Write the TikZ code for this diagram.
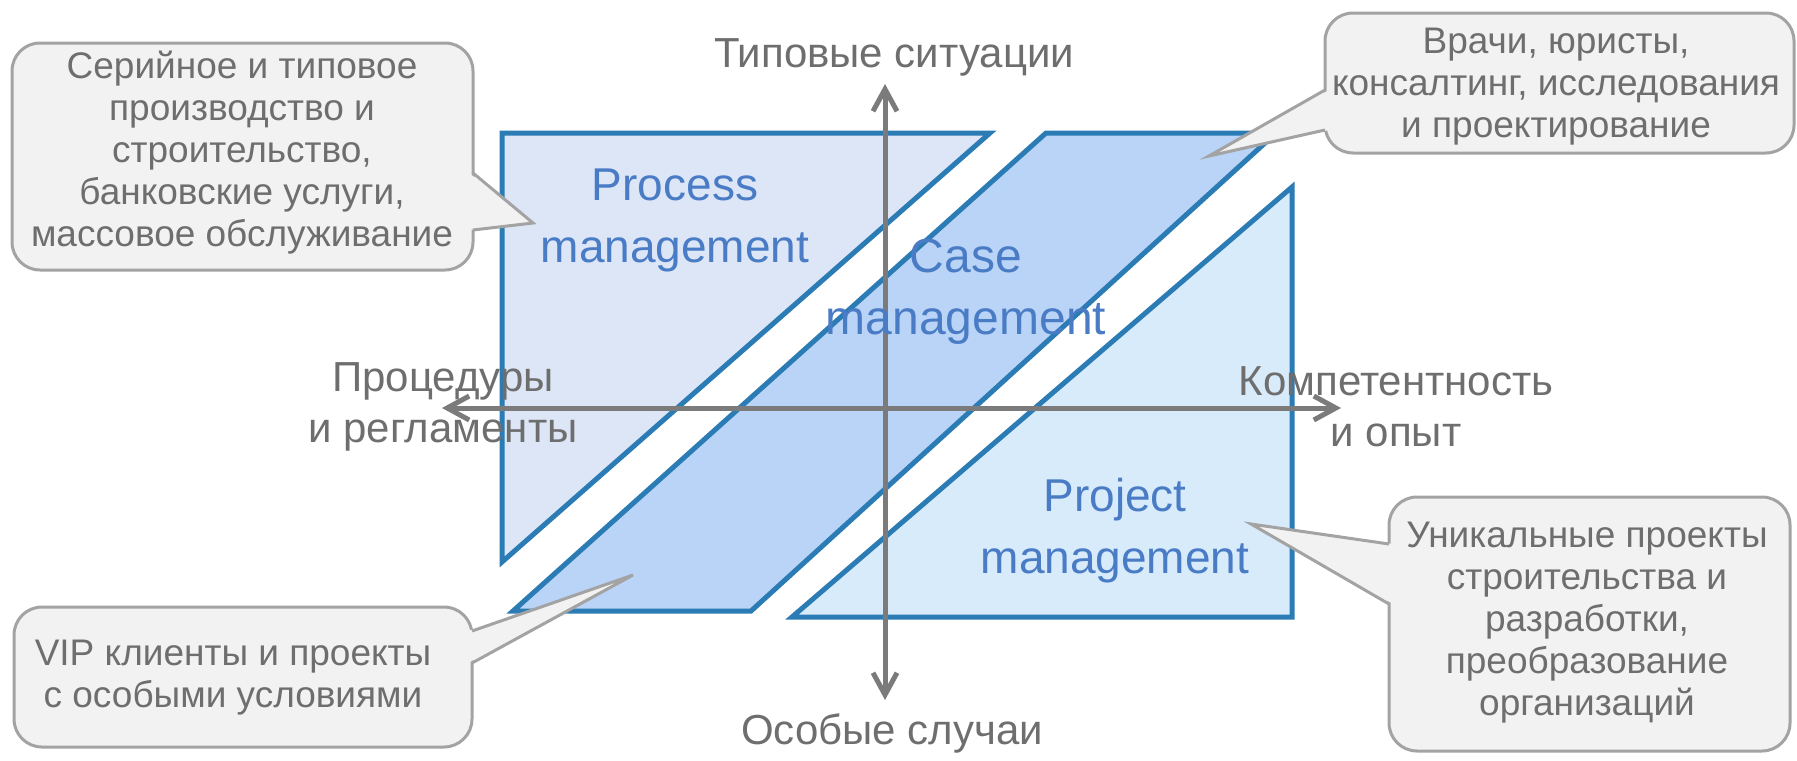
\documentclass[tikz,border=0pt]{standalone}
\usepackage{fontspec}
\setmainfont{Liberation Sans}
\usetikzlibrary{arrows.meta}
\definecolor{procfill}{HTML}{DCE6F6}
\definecolor{casefill}{HTML}{B9D4F6}
\definecolor{projfill}{HTML}{D8EBFB}
\definecolor{shapeline}{HTML}{2B7BB5}
\definecolor{labelblue}{HTML}{4A7CC6}
\definecolor{axisgray}{HTML}{7B7B7B}
\definecolor{textgray}{HTML}{6E6E6E}
\definecolor{callfill}{HTML}{F2F2F2}
\definecolor{callline}{HTML}{A3A3A3}
\begin{document}
\begin{tikzpicture}[x=0.5pt,y=-0.5pt,
  region/.style={draw=shapeline, line width=2.5pt, line join=miter},
  regionlabel/.style={text=labelblue, align=center, inner sep=0pt, font=\fontsize{23}{31}\selectfont},
  axisline/.style={draw=axisgray, line width=2.5pt, {Straight Barb[length=11pt,width=12pt]}-{Straight Barb[length=11pt,width=12pt]}},
  axislabel/.style={text=textgray, align=center, inner sep=0pt, font=\fontsize{21}{25.5}\selectfont},
  callbox/.style={fill=callfill, draw=callline, line width=1.5pt, rounded corners=14pt},
  callpointer/.style={draw=callline, line width=1.5pt, line join=miter},
  calltext/.style={text=textgray, align=center, inner sep=0pt, font=\fontsize{18.5}{21}\selectfont}]
\useasboundingbox (0,0) rectangle (1797,760);

% regions
\draw[region, fill=procfill] (502,133) -- (990,133) -- (502,562) -- cycle;
\draw[region, fill=casefill] (1046,133) -- (1276,133) -- (751,611) -- (513,611) -- cycle;
\draw[region, fill=projfill] (1292,187) -- (1292,617) -- (792,617) -- cycle;

% axes
\coordinate (ytop) at (885,84);
\coordinate (ybot) at (885,700);
\coordinate (xl) at (442,408);
\coordinate (xr) at (1341,408);
\draw[axisline] (ybot) -- (ytop);
\draw[axisline] (xl) -- (xr);

% region labels
\node[regionlabel] (proc) at (675,220) {Process\\management};
\node[regionlabel, font=\fontsize{24}{31}\selectfont] (case) at (966,292) {Case\\management};
\node[regionlabel] (proj) at (1115,531) {Project\\management};

% axis labels
\node[axislabel] (top) at (894,57) {Типовые ситуации};
\node[axislabel] (bot) at (892,733) {Особые случаи};
\node[axislabel] (left) at (443,407) {Процедуры\\и регламенты};
\node[axislabel] (right) at (1396,407) {Компетентность\\и опыт};

% callout 1 (top left)
\fill[callbox] (12,43) rectangle (473,270);
\fill[callfill] (469,173) -- (533,223) -- (469,230) -- cycle;
\coordinate (t1) at (533,223);
\draw[callpointer] (473,173) -- (t1) -- (473,230);
\node[calltext] (c1) at (242,153) {Серийное и типовое\\производство и\\строительство,\\банковские услуги,\\массовое обслуживание};

% callout 2 (top right)
\fill[callbox] (1325,13) rectangle (1794,153);
\fill[callfill] (1329,90) -- (1209,156) -- (1329,130) -- cycle;
\coordinate (t2) at (1209,156);
\draw[callpointer] (1325,90) -- (t2) -- (1325,130);
\node[calltext] (c2) at (1556,87) {Врачи, юристы,\\консалтинг, исследования\\и проектирование};

% callout 3 (bottom left)
\fill[callbox] (14,607) rectangle (472,747);
\fill[callfill] (468,631) -- (633,575) -- (468,663) -- cycle;
\coordinate (t3) at (633,575);
\draw[callpointer] (472,631) -- (t3) -- (472,663);
\node[calltext] (c3) at (233,678) {VIP клиенты и проекты\\с особыми условиями};

% callout 4 (bottom right)
\fill[callbox] (1389,497) rectangle (1790,751);
\fill[callfill] (1393,544) -- (1251,524) -- (1393,604) -- cycle;
\coordinate (t4) at (1251,524);
\draw[callpointer] (1389,544) -- (t4) -- (1389,604);
\node[calltext] (c4) at (1587,623) {Уникальные проекты\\строительства и\\разработки,\\преобразование\\организаций};
\end{tikzpicture}
\end{document}
